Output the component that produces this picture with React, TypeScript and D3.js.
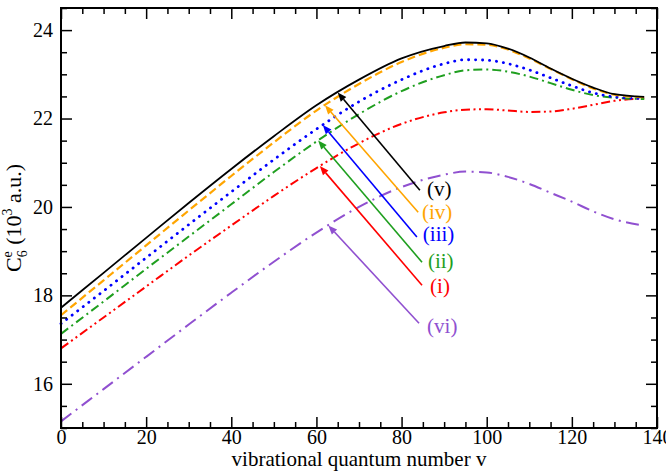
import * as d3 from "d3";
import { useEffect, useRef } from "react";

// vibrational levels sampled for every curve
const vibLevels = [0, 10, 20, 30, 40, 50, 60, 70, 80, 90, 95, 100, 105, 110, 115, 120, 125, 130, 137];

// C6 dispersion coefficient, in units of 10^3 a.u.
const c6Case1 = [16.8, 17.5, 18.2, 18.9, 19.58, 20.25, 20.88, 21.44, 21.88, 22.14, 22.2, 22.21, 22.18, 22.15, 22.16, 22.22, 22.31, 22.4, 22.46];
const c6Case2 = [17.13, 17.86, 18.6, 19.33, 20.06, 20.79, 21.48, 22.1, 22.62, 22.98, 23.09, 23.11, 23.06, 22.95, 22.8, 22.65, 22.53, 22.47, 22.44];
const c6Case3 = [17.36, 18.1, 18.85, 19.6, 20.34, 21.07, 21.76, 22.38, 22.88, 23.24, 23.33, 23.32, 23.24, 23.1, 22.92, 22.74, 22.58, 22.49, 22.45];
const c6Case4 = [17.55, 18.34, 19.13, 19.92, 20.7, 21.46, 22.18, 22.78, 23.28, 23.6, 23.68, 23.67, 23.56, 23.36, 23.12, 22.89, 22.68, 22.54, 22.48];
const c6Case5 = [17.72, 18.51, 19.3, 20.09, 20.86, 21.6, 22.3, 22.88, 23.36, 23.64, 23.72, 23.7, 23.58, 23.38, 23.13, 22.9, 22.7, 22.55, 22.49];
const c6Case6 = [15.15, 15.88, 16.61, 17.34, 18.06, 18.76, 19.42, 20.0, 20.45, 20.73, 20.8, 20.78, 20.68, 20.52, 20.32, 20.12, 19.9, 19.72, 19.58];

const caseNames = ["(i)", "(ii)", "(iii)", "(iv)", "(v)", "(vi)"];

// annotation arrows: tip sits on the curve at arrowTipV, tail near the label
const arrowTipV = [60.8, 60.4, 61.5, 62, 65, 62.8];
const arrowTailV = [84.8, 84.8, 83.6, 83.9, 84.3, 84.1];
const arrowTailC6 = [18.23, 18.75, 19.32, 19.88, 20.38, 17.37];
const labelV = [86.7, 86.2, 85.0, 84.8, 86.0, 86.0];
const labelC6 = [18.05, 18.62, 19.23, 19.72, 20.24, 17.14];

const xTicks = [0, 20, 40, 60, 80, 100, 120, 140];
const yTicks = [16, 18, 20, 22, 24];

const FONT = "'Liberation Serif', 'Times New Roman', Times, serif";

const styles = [
  { color: "#ff0000", dash: "9,3.5,2,3.5,2,3.5", width: 2, cap: "butt" },
  { color: "#1f9f1f", dash: "9,4,2,4", width: 2, cap: "butt" },
  { color: "#0000ff", dash: "0.2,6.8", width: 2.8, cap: "round" },
  { color: "#ffa500", dash: "8,4", width: 2.2, cap: "butt" },
  { color: "#000000", dash: null, width: 1.8, cap: "butt" },
  { color: "#9050d0", dash: "13,5.5,2,5.5", width: 2, cap: "butt" }
];

export default function App() {
  const ref = useRef<SVGSVGElement | null>(null);

  useEffect(() => {
    if (!ref.current) {
      return;
    }
    const width = 666;
    const height = 474;
    const svg = d3.select(ref.current);
    svg.selectAll("*").remove();
    svg
      .attr("width", width)
      .attr("height", height)
      .attr("viewBox", `0 0 ${width} ${height}`)
      .attr("font-family", FONT);

    const left = 61;
    const right = 657;
    const top = 8;
    const bottom = 428;

    const x = d3.scaleLinear().domain([0, 140]).range([left, right]);
    const y = d3.scaleLinear().domain([15, 24.5]).range([bottom, top]);

    svg.append("rect").attr("width", width).attr("height", height).attr("fill", "#fff");

    const allSeries = [c6Case1, c6Case2, c6Case3, c6Case4, c6Case5, c6Case6];
    const line = d3
      .line<[number, number]>()
      .x((d) => x(d[0]))
      .y((d) => y(d[1]))
      .curve(d3.curveMonotoneX);

    const curves = svg.append("g");
    allSeries.forEach((values, i) => {
      const pts = vibLevels.map((v, k) => [v, values[k]] as [number, number]);
      const st = styles[i];
      const path = curves
        .append("path")
        .attr("d", line(pts))
        .attr("fill", "none")
        .attr("stroke", st.color)
        .attr("stroke-width", st.width)
        .attr("stroke-linecap", st.cap);
      if (st.dash) {
        path.attr("stroke-dasharray", st.dash);
      }
    });

    // arrows and labels
    const notes = svg.append("g");
    allSeries.forEach((values, i) => {
      const onCurve = d3.scaleLinear().domain(vibLevels).range(values);
      const tx = x(arrowTipV[i]);
      const ty = y(onCurve(arrowTipV[i]));
      const sx = x(arrowTailV[i]);
      const sy = y(arrowTailC6[i]);
      const color = styles[i].color;
      const ang = Math.atan2(ty - sy, tx - sx);
      const headLen = 9;
      const headHalf = 3.6;
      const bx = tx - Math.cos(ang) * headLen;
      const by = ty - Math.sin(ang) * headLen;
      notes
        .append("line")
        .attr("x1", sx)
        .attr("y1", sy)
        .attr("x2", bx)
        .attr("y2", by)
        .attr("stroke", color)
        .attr("stroke-width", 1.6);
      const nx = -Math.sin(ang) * headHalf;
      const ny = Math.cos(ang) * headHalf;
      notes
        .append("path")
        .attr("d", `M${tx},${ty}L${bx + nx},${by + ny}L${bx - nx},${by - ny}Z`)
        .attr("fill", color);
      notes
        .append("text")
        .attr("x", x(labelV[i]))
        .attr("y", y(labelC6[i]))
        .attr("font-size", 21)
        .attr("font-family", FONT)
        .attr("fill", color)
        .text(caseNames[i]);
    });

    // axes: ticks point inward on all four sides
    const minorX = d3.range(0, 141, 5).filter((v) => v % 20 !== 0);
    const minorY = d3.range(15, 24.51, 0.5).filter((v) => v % 2 !== 0);

    const styleAxis = (g: d3.Selection<SVGGElement, unknown, null, undefined>) => {
      g.attr("font-family", FONT).attr("font-size", 20);
      g.select(".domain").remove();
      g.selectAll("line").attr("stroke", "#000").attr("stroke-width", 1.5);
      g.selectAll("text").attr("font-size", 20).attr("fill", "#000").attr("font-family", FONT);
    };

    svg
      .append("g")
      .attr("transform", `translate(0,${bottom})`)
      .call(d3.axisBottom(x).tickValues(xTicks).tickSize(-11).tickPadding(2).tickFormat(d3.format("d")))
      .call(styleAxis);
    svg
      .append("g")
      .attr("transform", `translate(0,${bottom})`)
      .call(d3.axisBottom(x).tickValues(minorX).tickSize(-6).tickFormat(() => ""))
      .call(styleAxis);
    svg
      .append("g")
      .attr("transform", `translate(0,${top})`)
      .call(d3.axisTop(x).tickValues(xTicks).tickSize(-11).tickFormat(() => ""))
      .call(styleAxis);
    svg
      .append("g")
      .attr("transform", `translate(0,${top})`)
      .call(d3.axisTop(x).tickValues(minorX).tickSize(-6).tickFormat(() => ""))
      .call(styleAxis);
    svg
      .append("g")
      .attr("transform", `translate(${left},0)`)
      .call(d3.axisLeft(y).tickValues(yTicks).tickSize(-11).tickPadding(8).tickFormat(d3.format("d")))
      .call(styleAxis);
    svg
      .append("g")
      .attr("transform", `translate(${left},0)`)
      .call(d3.axisLeft(y).tickValues(minorY).tickSize(-6).tickFormat(() => ""))
      .call(styleAxis);
    svg
      .append("g")
      .attr("transform", `translate(${right},0)`)
      .call(d3.axisRight(y).tickValues(yTicks).tickSize(-11).tickFormat(() => ""))
      .call(styleAxis);
    svg
      .append("g")
      .attr("transform", `translate(${right},0)`)
      .call(d3.axisRight(y).tickValues(minorY).tickSize(-6).tickFormat(() => ""))
      .call(styleAxis);

    svg
      .append("rect")
      .attr("x", left)
      .attr("y", top)
      .attr("width", right - left)
      .attr("height", bottom - top)
      .attr("fill", "none")
      .attr("stroke", "#000")
      .attr("stroke-width", 2);

    svg
      .append("text")
      .attr("x", (left + right) / 2)
      .attr("y", 466)
      .attr("text-anchor", "middle")
      .attr("font-size", 21)
      .attr("font-family", FONT)
      .text("vibrational quantum number v");

    const yTitle = svg
      .append("text")
      .attr("transform", `translate(21,${(top + bottom) / 2}) rotate(-90)`)
      .attr("text-anchor", "middle")
      .attr("font-size", 22)
      .attr("font-family", FONT);
    yTitle.append("tspan").text("C");
    yTitle.append("tspan").attr("font-size", 14).attr("dy", -9).text("e");
    yTitle.append("tspan").attr("font-size", 14).attr("dx", -6.2).attr("dy", 15).text("6");
    yTitle.append("tspan").attr("dy", -6).text(" (10");
    yTitle.append("tspan").attr("font-size", 14).attr("dy", -9).text("3");
    yTitle.append("tspan").attr("dy", 9).text(" a.u.)");
  }, []);

  return (
    <div style={{ position: "absolute", left: 0, top: 0 }}>
      <svg ref={ref} style={{ display: "block" }} aria-label="C6 coefficient versus vibrational quantum number" />
    </div>
  );
}
